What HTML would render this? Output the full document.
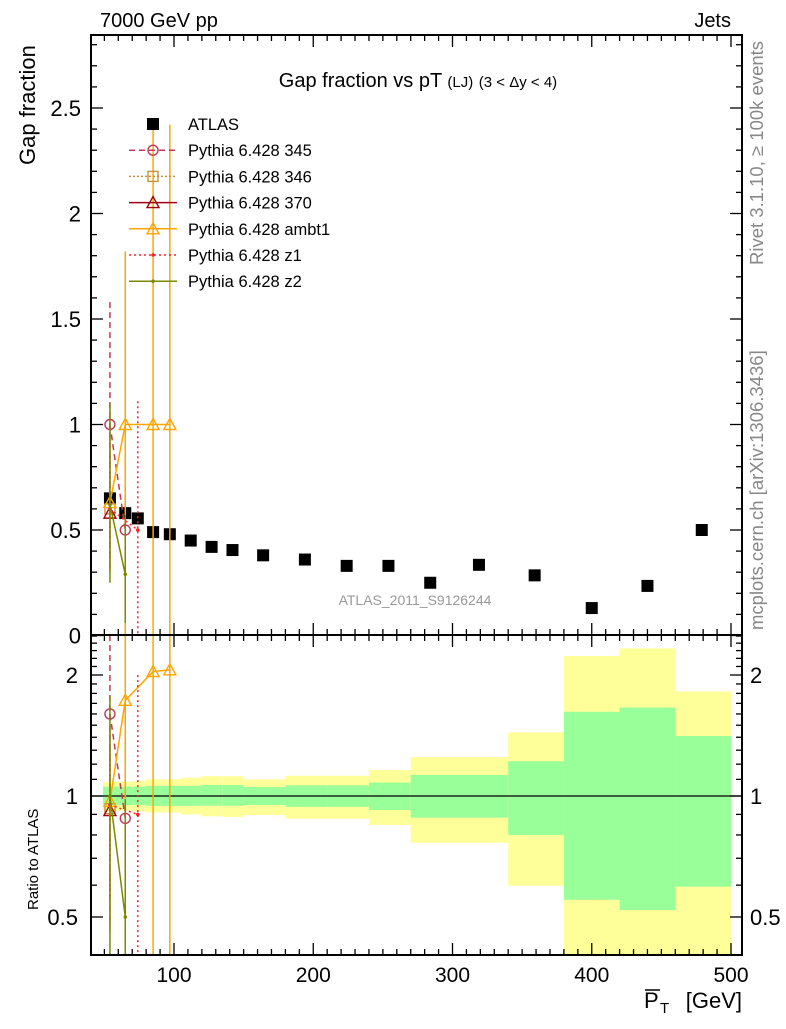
<!DOCTYPE html>
<html><head><meta charset="utf-8"><style>
body{margin:0;background:#fff;}
svg{font-family:"Liberation Sans","DejaVu Sans",sans-serif;}
</style></head><body>
<svg id="chart" width="786" height="1024" viewBox="0 0 786 1024" xmlns="http://www.w3.org/2000/svg">
<g id="bands"></g>
<g id="marks"></g>
<g id="axes"></g>
<text x="100" y="27" font-size="20">7000 GeV pp</text>
<text x="731" y="27" font-size="20" text-anchor="end">Jets</text>
<text x="418" y="87" font-size="20" text-anchor="middle">Gap fraction vs pT <tspan font-size="15">(LJ)</tspan> <tspan font-size="15">(3 &lt; Δy &lt; 4)</tspan></text>
<text x="0" y="0" font-size="22" transform="translate(35,165) rotate(-90)">Gap fraction</text>
<text x="0" y="0" font-size="15" transform="translate(38,910) rotate(-90)">Ratio to ATLAS</text>
<text x="0" y="0" font-size="18.5" fill="#888" transform="translate(763,265) rotate(-90)">Rivet 3.1.10, ≥ 100k events</text>
<text x="0" y="0" font-size="18.5" fill="#888" transform="translate(763,630) rotate(-90)">mcplots.cern.ch [arXiv:1306.3436]</text>
<text x="415" y="605" font-size="14" fill="#999" text-anchor="middle">ATLAS_2011_S9126244</text>
<g>
<text x="644" y="1008" font-size="22">P</text>
<line x1="645" x2="660" y1="990" y2="990" stroke="#000" stroke-width="1.5"/>
<text x="660" y="1013" font-size="15">T</text>
<text x="742" y="1008" font-size="22" text-anchor="end">[GeV]</text>
</g>
<g id="legend"></g>
</svg>
<script>
const binEdges=[49,60,70,80,90,105,120,135,150,180,210,240,270,300,340,380,420,460,500];
const atlasX=[54,65,74,85,97,112,127,142,164,194,224,254,284,319,359,400,440,479];
const atlasY=[0.65,0.58,0.555,0.49,0.48,0.45,0.42,0.405,0.38,0.36,0.33,0.33,0.25,0.335,0.285,0.13,0.235,0.50];
const yelUp=[1.085,1.085,1.09,1.1,1.1,1.11,1.12,1.12,1.10,1.123,1.123,1.16,1.25,1.25,1.44,2.23,2.33,1.82];
const yelDn=[0.915,0.92,0.915,0.91,0.91,0.9,0.89,0.886,0.897,0.878,0.878,0.847,0.765,0.765,0.598,0.3,0.3,0.3];
const grnUp=[1.055,1.055,1.055,1.06,1.06,1.06,1.065,1.065,1.052,1.063,1.063,1.08,1.128,1.128,1.22,1.62,1.66,1.41];
const grnDn=[0.95,0.95,0.95,0.945,0.945,0.945,0.946,0.946,0.95,0.94,0.94,0.923,0.883,0.883,0.80,0.552,0.52,0.595];
const s345X=[54,65], s345Y=[1.0,0.5], s345Lo=[0.3,0.0], s345Hi=[1.58,1.1], s345R=[1.6,0.88];
const s346X=[54], s346Y=[0.6], s346R=[0.93];
const s370X=[54], s370Y=[0.58], s370R=[0.92];
const ambX=[54,65,85,97], ambY=[0.63,1.0,1.0,1.0], ambLo=[0.3,0.0,0.0,0.0], ambHi=[0.95,1.82,2.42,2.42], ambR=[0.97,1.73,2.04,2.06];
const z1X=[54,74], z1Y=[0.6,0.5], z1Lo=[0.35,0.0], z1Hi=[0.85,1.11], z1R=[0.95,0.9];
const z2X=[54,65], z2Y=[0.62,0.29], z2Lo=[0.25,0.06], z2Hi=[1.1,0.57], z2R=[1.0,0.5];
const yTicks=[0,0.5,1,1.5,2,2.5];
const rTicks=[0.5,1,2];
const xTicks=[100,200,300,400,500];

const NS="http://www.w3.org/2000/svg";
const L=91,R=742,T=35,MB=635,RB=955;
const X=v=>34.75+v*1.3925;
const Y=v=>635.5-v*211;
const RY=v=>796-121*Math.log2(v);
const clampR=y=>Math.max(MB,Math.min(RB,y));
function el(tag,attrs,parent){const e=document.createElementNS(NS,tag);for(const k in attrs)e.setAttribute(k,attrs[k]);parent.appendChild(e);return e;}
const bands=document.getElementById('bands'),marks=document.getElementById('marks'),axes=document.getElementById('axes'),legend=document.getElementById('legend');

for(let i=0;i<atlasX.length;i++){
  const x0=X(binEdges[i]),x1=X(binEdges[i+1]);
  const yt=clampR(RY(yelUp[i])),yb=clampR(RY(yelDn[i]));
  const r1=el('rect',{x:x0,y:yt,width:x1-x0,height:yb-yt,fill:'#ffff99'},bands);
  
  
  const gt=RY(grnUp[i]),gb=RY(grnDn[i]);
  const r2=el('rect',{x:x0,y:gt,width:x1-x0,height:gb-gt,fill:'#99ff99'},bands);
  
  
}
const one=el('line',{x1:L,x2:R,y1:RY(1),y2:RY(1),stroke:'#000','stroke-width':1.3},bands);



for(let i=0;i<atlasX.length;i++){
  const r=el('rect',{x:X(atlasX[i])-6,y:Y(atlasY[i])-6,width:12,height:12,fill:'#000'},marks);
  
  
}
function clipM(y){return Math.max(T,Math.min(MB,y));}
function series(name,xs,ys,lo,hi,rs,color,dash,marker){
  const g=el('g',{},marks);
  
  
  const da=dash||'none';
  if(xs.length>1){
    el('polyline',{points:xs.map((x,i)=>X(x)+','+Y(ys[i])).join(' '),fill:'none',stroke:color,'stroke-width':1.5,'stroke-dasharray':da},g);
    el('polyline',{points:xs.map((x,i)=>X(x)+','+clampR(RY(rs[i]))).join(' '),fill:'none',stroke:color,'stroke-width':1.5,'stroke-dasharray':da},g);
  }
  xs.forEach((x,i)=>{
    const px=X(x);
    if(lo){
      el('line',{x1:px,x2:px,y1:clipM(Y(hi[i])),y2:clipM(Y(lo[i])),stroke:color,'stroke-width':1.5,'stroke-dasharray':da},g);
      const rh=clampR(RY(rs[i]*hi[i]/ys[i])), rl=lo[i]>0?clampR(RY(rs[i]*lo[i]/ys[i])):RB;
      el('line',{x1:px,x2:px,y1:rh,y2:rl,stroke:color,'stroke-width':1.5,'stroke-dasharray':da},g);
    }
    [Y(ys[i]),clampR(RY(rs[i]))].forEach(py=>drawMarker(g,marker,px,py,color));
  });
}
function drawMarker(g,m,px,py,c){
  if(m==='circle')el('circle',{cx:px,cy:py,r:5,fill:'none',stroke:c,'stroke-width':1.4},g);
  else if(m==='square')el('rect',{x:px-5,y:py-5,width:10,height:10,fill:'none',stroke:c,'stroke-width':1.4},g);
  else if(m==='tri')el('polygon',{points:`${px},${py-6} ${px-6},${py+5} ${px+6},${py+5}`,fill:'none',stroke:c,'stroke-width':1.4},g);
  else el('circle',{cx:px,cy:py,r:1.8,fill:c},g);
}
series('pythia-345',s345X,s345Y,s345Lo,s345Hi,s345R,'#c0395a','6,4','circle');
series('pythia-346',s346X,s346Y,null,null,s346R,'#c8903c','2,2','square');
series('pythia-370',s370X,s370Y,null,null,s370R,'#a00010',null,'tri');
series('pythia-ambt1',ambX,ambY,ambLo,ambHi,ambR,'#ffa500',null,'tri');
series('pythia-z1',z1X,z1Y,z1Lo,z1Hi,z1R,'#ff2020','2,3','dot');
series('pythia-z2',z2X,z2Y,z2Lo,z2Hi,z2R,'#7a8a00',null,'dot');

[[T,MB],[MB,RB]].forEach(([a,b],k)=>{
  const f=el('rect',{x:L,y:a,width:R-L,height:b-a,fill:'none',stroke:'#000','stroke-width':2},axes);
  
  
});
for(let v=40;v<=500;v+=10){
  const px=X(v); if(px<L||px>R)continue;
  const len=v%100===0?12:6;
  [[MB,-1],[T,1],[RB,-1],[MB,1]].forEach(([y,d])=>el('line',{x1:px,x2:px,y1:y,y2:y+d*len,stroke:'#000','stroke-width':1.3},axes));
}
xTicks.forEach(v=>{
  const t=el('text',{x:X(v),y:982,'font-size':21,'text-anchor':'middle'},axes);t.textContent=v;
  
  
});
for(let v=0;v<=2.81;v+=0.1){
  const py=Y(v);const major=Math.abs(v*2-Math.round(v*2))<1e-6;const len=major?12:6;
  el('line',{x1:L,x2:L+len,y1:py,y2:py,stroke:'#000','stroke-width':1.3},axes);
  el('line',{x1:R,x2:R-len,y1:py,y2:py,stroke:'#000','stroke-width':1.3},axes);
}
yTicks.forEach(v=>{
  const t=el('text',{x:81,y:Y(v)+8,'font-size':22,'text-anchor':'end'},axes);t.textContent=v;
  
  
});
[0.4,0.5,0.6,0.7,0.8,0.9,1,1.1,1.2,1.3,1.4,1.5,1.6,1.7,1.8,1.9,2,2.1,2.2,2.3,2.4,2.5].forEach(v=>{
  const py=RY(v); if(py<MB||py>RB)return;
  const len=rTicks.includes(v)?12:6;
  el('line',{x1:L,x2:L+len,y1:py,y2:py,stroke:'#000','stroke-width':1.3},axes);
  el('line',{x1:R,x2:R-len,y1:py,y2:py,stroke:'#000','stroke-width':1.3},axes);
});
rTicks.forEach(v=>{
  const t=el('text',{x:78,y:RY(v)+8,'font-size':22,'text-anchor':'end'},axes);t.textContent=v;
  
  
  const t2=el('text',{x:750,y:RY(v)+8,'font-size':22},axes);t2.textContent=v;
  
  
});
const legNames=['ATLAS','Pythia 6.428 345','Pythia 6.428 346','Pythia 6.428 370','Pythia 6.428 ambt1','Pythia 6.428 z1','Pythia 6.428 z2'];
const legCol=['#000','#c0395a','#c8903c','#a00010','#ffa500','#ff2020','#7a8a00'];
const legDash=[null,'6,4','2,2',null,null,'2,3',null];
const legMark=['fill','circle','square','tri','tri','dot','dot'];
legNames.forEach((n,i)=>{
  const y=124+i*26.2;
  const g=el('g',{},legend);
  
  
  if(i===0)el('rect',{x:147,y:y-6,width:12,height:12,fill:'#000'},g);
  else{el('line',{x1:129,x2:177,y1:y,y2:y,stroke:legCol[i],'stroke-width':1.5,'stroke-dasharray':legDash[i]||'none'},g);drawMarker(g,legMark[i],153,y,legCol[i]);}
  const t=el('text',{x:188,y:y+6,'font-size':16.5},g);t.textContent=n;
});
</script>
</body></html>
